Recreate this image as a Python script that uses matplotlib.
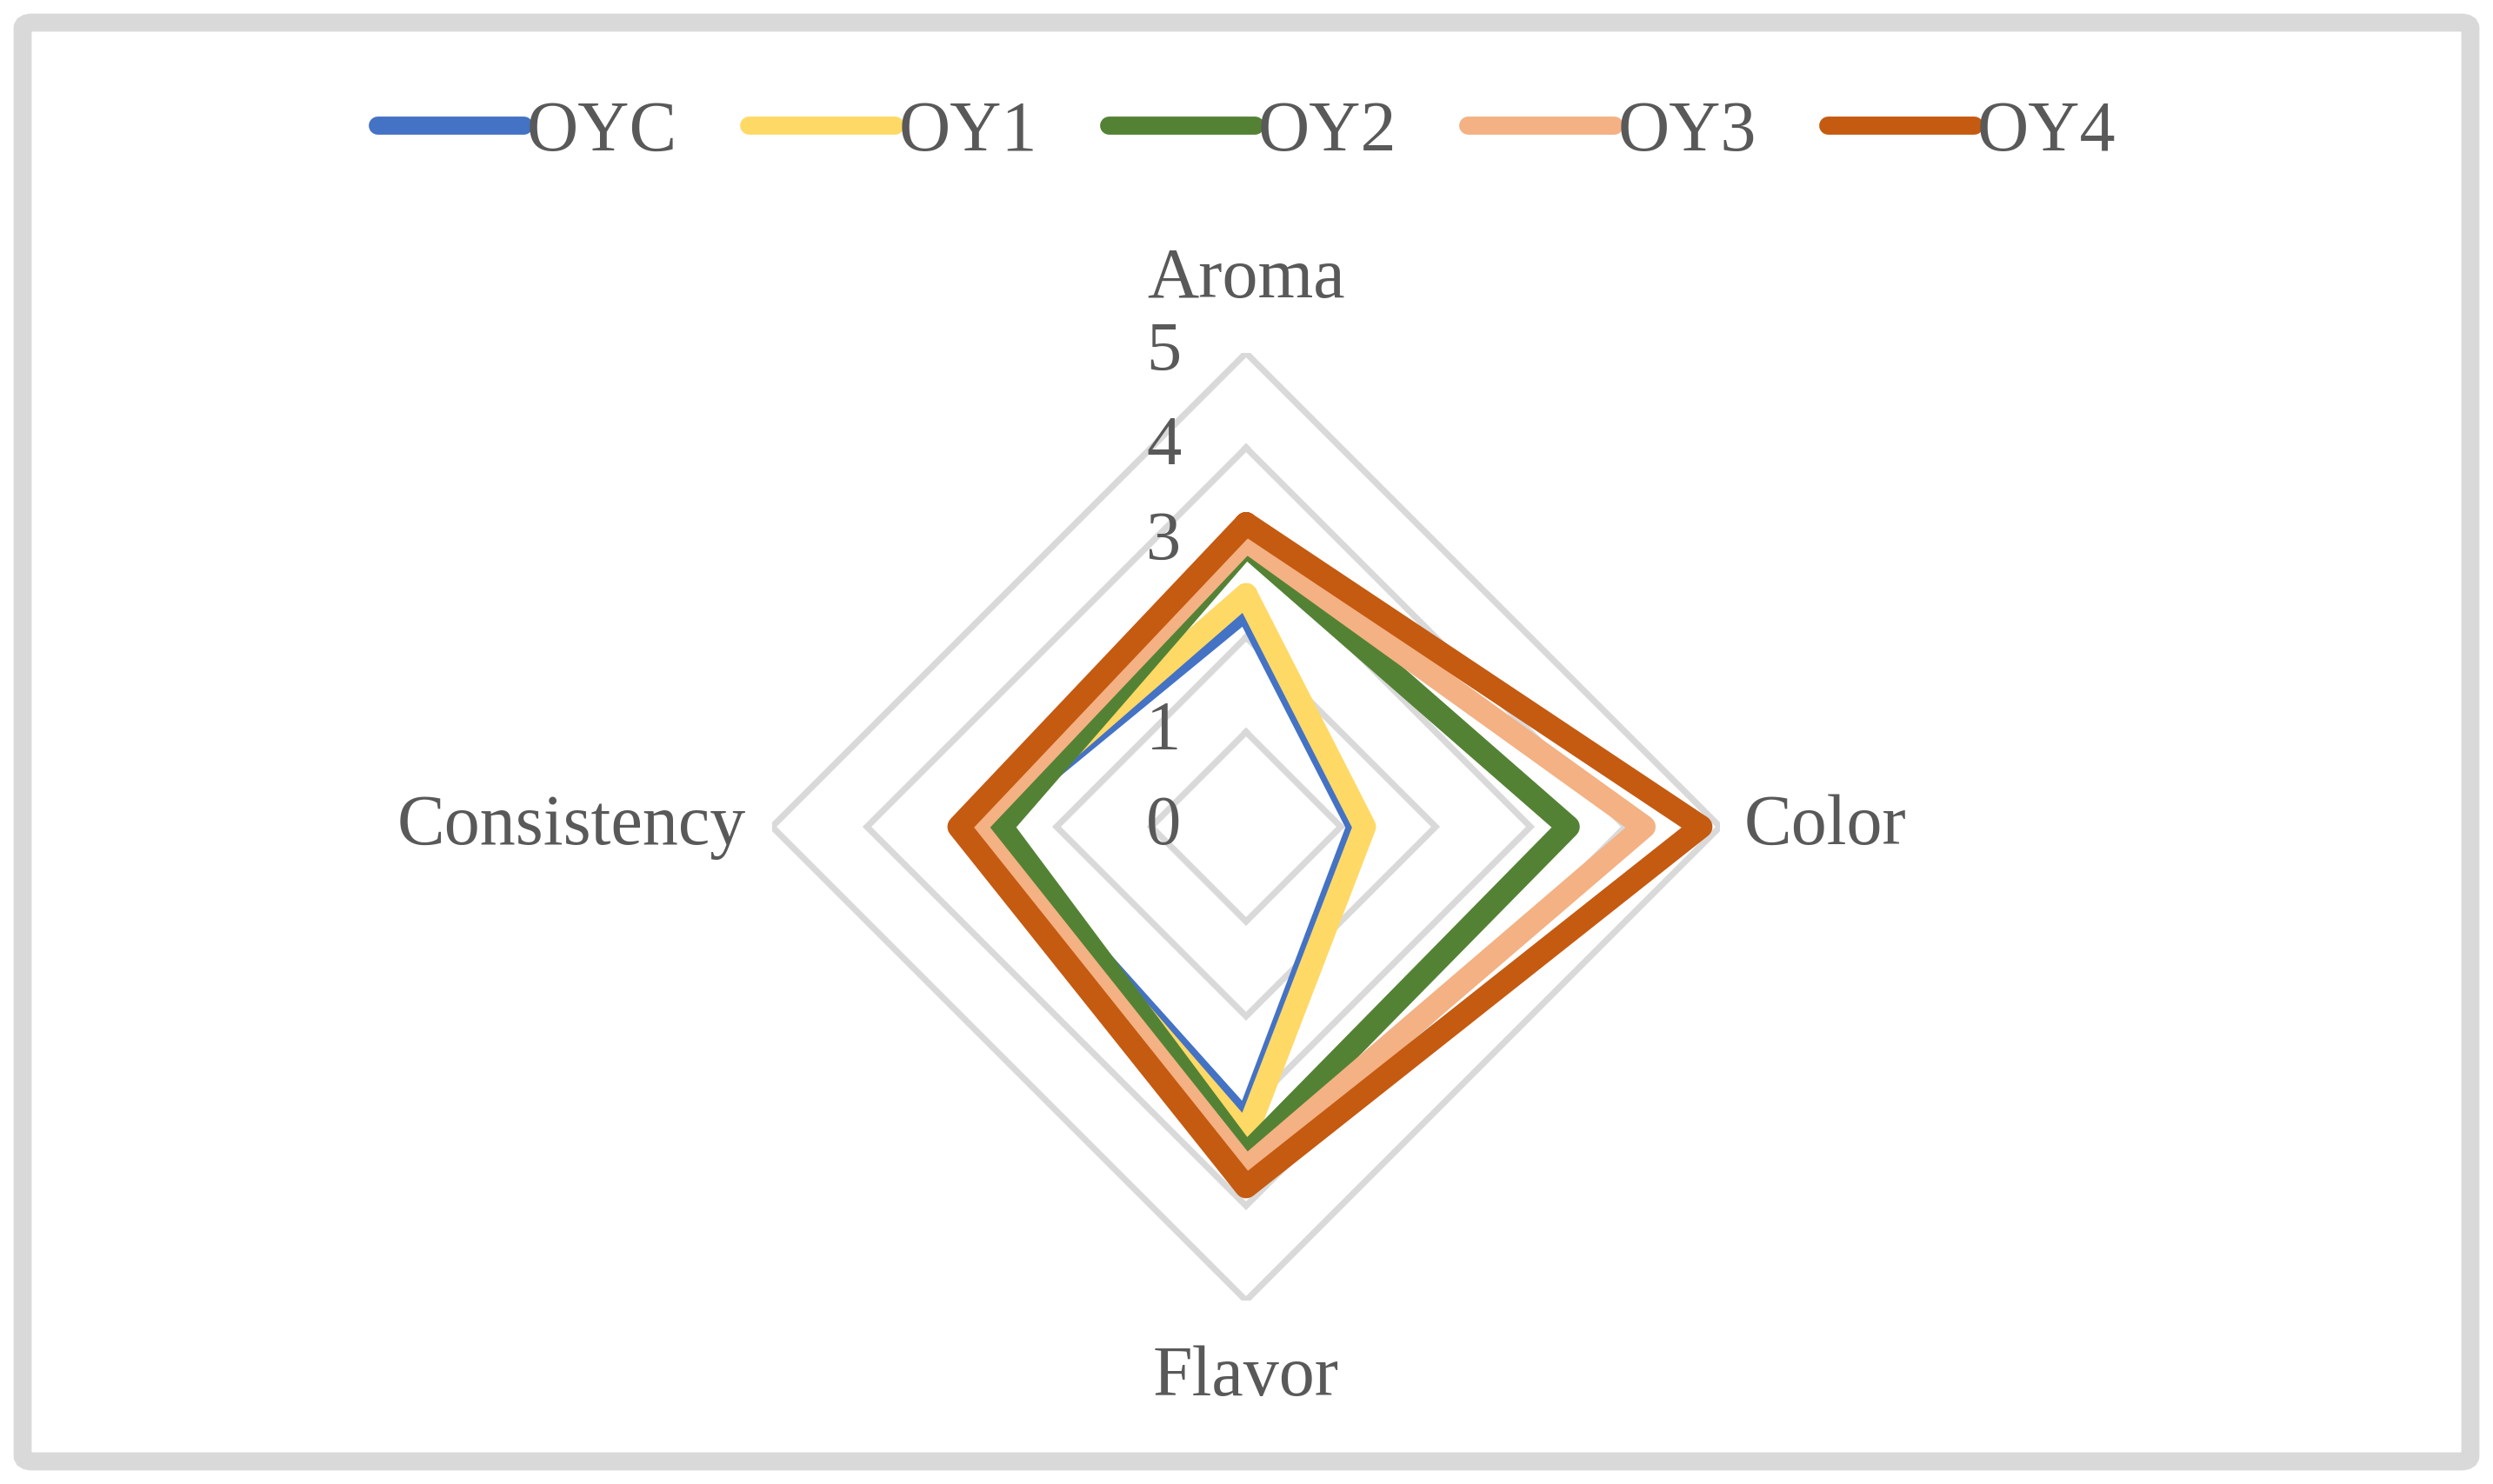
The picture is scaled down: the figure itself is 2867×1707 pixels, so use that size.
import numpy as np
import matplotlib
matplotlib.use("Agg")
import matplotlib.pyplot as plt
from matplotlib.patches import FancyBboxPatch

categories = ["Aroma", "Color", "Flavor", "Consistency"]
series_names = ["OYC", "OY1", "OY2", "OY3", "OY4"]
oyc = [2.3, 1.18, 3.12, 2.8]
oy1 = [2.45, 1.25, 3.25, 2.82]
oy2 = [2.97, 3.4, 3.46, 2.58]
oy3 = [3.02, 4.2, 3.6, 2.86]
oy4 = [3.2, 4.8, 3.8, 3.03]
tick_levels = [0, 1, 2, 3, 4, 5]
colors = ["#4472C4", "#FFD966", "#548235", "#F4B183", "#C55A11"]

TXT = "#595959"
GRID = "#D9D9D9"
FONT = "Liberation Serif"
plt.rcParams["font.family"] = [FONT, "DejaVu Serif", "DejaVu Sans"]

fig = plt.figure(figsize=(2867 / 200, 1707 / 200), dpi=200)

# outer rounded border
border = FancyBboxPatch((26 / 2867, 26 / 1707), 1 - 52 / 2867, 1 - 52 / 1707,
                        boxstyle="round,pad=0,rounding_size=0.004",
                        transform=fig.transFigure, facecolor="none",
                        edgecolor=GRID, linewidth=7.5, zorder=0)
fig.patches.append(border)

R = 545
cx, cy = 1433, 951
ax = fig.add_axes([(cx - R) / 2867, 1 - (cy + R) / 1707, 2 * R / 2867, 2 * R / 1707],
                  projection="polar")
ax.set_theta_offset(np.pi / 2)
ax.set_theta_direction(-1)
ax.set_ylim(0, 5)
ax.grid(False)
ax.spines["polar"].set_visible(False)
ax.set_xticks([])
ax.set_yticks([])
ax.patch.set_alpha(0)

n = len(categories)
theta = np.arange(n) * 2 * np.pi / n
theta_c = np.append(theta, theta[0])

for lv in tick_levels[1:]:
    ax.plot(theta_c, [lv] * (n + 1), color=GRID, lw=2.6, zorder=1,
            solid_joinstyle="miter")

for name, vals, c in zip(series_names, [oyc, oy1, oy2, oy3, oy4], colors):
    v = list(vals) + [vals[0]]
    ax.plot(theta_c, v, color=c, lw=9.5, label=name, zorder=3,
            solid_joinstyle="round", solid_capstyle="round")

for lv in tick_levels:
    ax.annotate(str(lv), xy=(0, lv), xytext=(-34, 0), textcoords="offset points",
                ha="center", va="center", fontsize=29, color=TXT, zorder=2)

offsets = [((0, 30), "center", "center"), ((10, 0), "left", "center"),
           ((0, -32), "center", "center"), ((-11, 0), "right", "center")]
for cat, t, (off, ha, va) in zip(categories, theta, offsets):
    ax.annotate(cat, xy=(t, 5), xytext=off, textcoords="offset points",
                ha=ha, va=va, fontsize=29.5, color=TXT, annotation_clip=False)

leg = fig.legend(loc="center", bbox_to_anchor=(0.5, 1 - 153 / 1707), ncol=5,
                 frameon=False, fontsize=29.5, handlelength=2.05, handletextpad=0.05,
                 columnspacing=1.0, labelcolor=TXT)
for h in leg.get_lines():
    h.set_linewidth(7.5)
    h.set_solid_capstyle("round")

fig.savefig("out.png", dpi=200, facecolor="white")
